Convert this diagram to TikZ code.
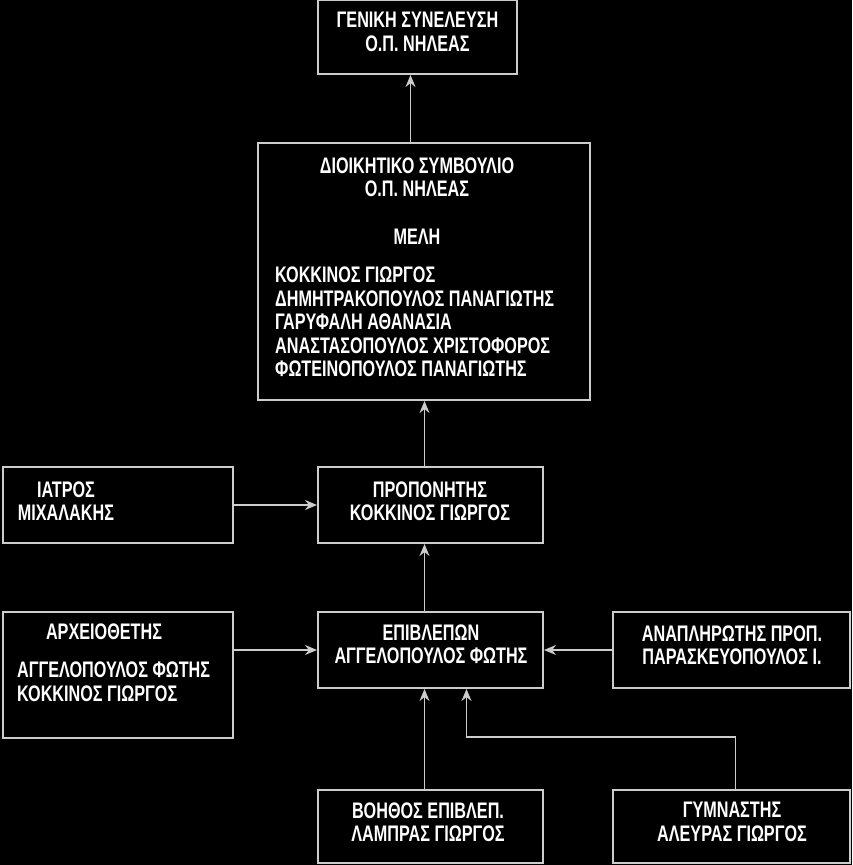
\documentclass[tikz,border=0pt]{standalone}
\usepackage{fontspec}
\newfontfamily\nf[FakeStretch=0.72]{Liberation Sans}
\usetikzlibrary{arrows.meta,calc}
\begin{document}
\begin{tikzpicture}[x=1pt,y=1pt,
  box/.style={draw=white!80!black,line width=2pt,inner sep=0pt},
  txt/.style={text=white,font=\nf\bfseries\fontsize{22.5}{23.5}\selectfont,align=center,inner sep=0pt},
  ltxt/.style={text=white,font=\nf\bfseries\fontsize{22.5}{23.5}\selectfont,align=left,inner sep=0pt},
  arr/.style={draw=white!80!black,line width=1.8pt,-{Stealth[length=12pt,width=10pt]}}]
\fill[black] (0,0) rectangle (852,-865);
\useasboundingbox (0,0) rectangle (852,-865);
% boxes
\node[box,minimum width=199pt,minimum height=74pt] (b1) at (417.5,-37) {};
\node[box,minimum width=332pt,minimum height=257pt] (b2) at (424,-271.5) {};
\node[box,minimum width=225pt,minimum height=76pt] (b3) at (430.5,-505) {};
\node[box,minimum width=230pt,minimum height=76pt] (b4) at (118,-505) {};
\node[box,minimum width=225pt,minimum height=76pt] (b5) at (430.5,-650) {};
\node[box,minimum width=230pt,minimum height=126pt] (b6) at (118,-675) {};
\node[box,minimum width=237pt,minimum height=76pt] (b7) at (731.5,-650) {};
\node[box,minimum width=225pt,minimum height=73pt] (b8) at (430.5,-826.5) {};
\node[box,minimum width=237pt,minimum height=73pt] (b9) at (731.5,-826.5) {};
% texts
\node[txt] (t1) at (417.5,-32) {ΓΕΝΙΚΗ ΣΥΝΕΛΕΥΣΗ\\Ο.Π. ΝΗΛΕΑΣ};
\node[txt] (t2a) at (417,-177) {ΔΙΟΙΚΗΤΙΚΟ ΣΥΜΒΟΥΛΙΟ\\Ο.Π. ΝΗΛΕΑΣ};
\node[txt] (t2b) at (417,-237) {ΜΕΛΗ};
\node[ltxt,anchor=north west] (t2c) at (275,-267) {ΚΟΚΚΙΝΟΣ ΓΙΩΡΓΟΣ\\ΔΗΜΗΤΡΑΚΟΠΟΥΛΟΣ ΠΑΝΑΓΙΩΤΗΣ\\ΓΑΡΥΦΑΛΗ ΑΘΑΝΑΣΙΑ\\ΑΝΑΣΤΑΣΟΠΟΥΛΟΣ ΧΡΙΣΤΟΦΟΡΟΣ\\ΦΩΤΕΙΝΟΠΟΥΛΟΣ ΠΑΝΑΓΙΩΤΗΣ};
\node[txt] (t3) at (430,-501) {ΠΡΟΠΟΝΗΤΗΣ\\ΚΟΚΚΙΝΟΣ ΓΙΩΡΓΟΣ};
\node[txt] (t4) at (66,-501) {ΙΑΤΡΟΣ\\ΜΙΧΑΛΑΚΗΣ};
\node[txt] (t5) at (431,-644) {ΕΠΙΒΛΕΠΩΝ\\ΑΓΓΕΛΟΠΟΥΛΟΣ ΦΩΤΗΣ};
\node[txt] (t6a) at (104,-632) {ΑΡΧΕΙΟΘΕΤΗΣ};
\node[ltxt,anchor=north west] (t6b) at (17,-662) {ΑΓΓΕΛΟΠΟΥΛΟΣ ΦΩΤΗΣ\\ΚΟΚΚΙΝΟΣ ΓΙΩΡΓΟΣ};
\node[txt] (t7) at (732,-645) {ΑΝΑΠΛΗΡΩΤΗΣ ΠΡΟΠ.\\ΠΑΡΑΣΚΕΥΟΠΟΥΛΟΣ Ι.};
\node[txt] (t8) at (428,-822) {ΒΟΗΘΟΣ ΕΠΙΒΛΕΠ.\\ΛΑΜΠΡΑΣ ΓΙΩΡΓΟΣ};
\node[txt] (t9) at (732,-822) {ΓΥΜΝΑΣΤΗΣ\\ΑΛΕΥΡΑΣ ΓΙΩΡΓΟΣ};
% connectors
\coordinate (c1) at ([xshift=-7pt]b1.south);
\draw[arr] (c1 |- b2.north) -- (c1);
\coordinate (c2) at ([xshift=-6pt]b3.north);
\draw[arr] (c2) -- (c2 |- b2.south);
\coordinate (c3) at ([xshift=-6pt]b5.north);
\draw[arr] (c3) -- (c3 |- b3.south);
\draw[arr] (b4.east) -- (b4.east -| b3.west);
\coordinate (c4) at ([yshift=25pt]b6.east);
\draw[arr] (c4) -- (c4 -| b5.west);
\draw[arr] (b7.west) -- (b7.west -| b5.east);
\coordinate (c5) at ([xshift=-6pt]b8.north);
\draw[arr] (c5) -- (c5 |- b5.south);
\coordinate (c6) at ([xshift=4pt]b9.north);
\coordinate (c7) at ([xshift=36pt]b5.south);
\draw[arr] (c6) -- ++(0,52) -| (c7);
\end{tikzpicture}
\end{document}
